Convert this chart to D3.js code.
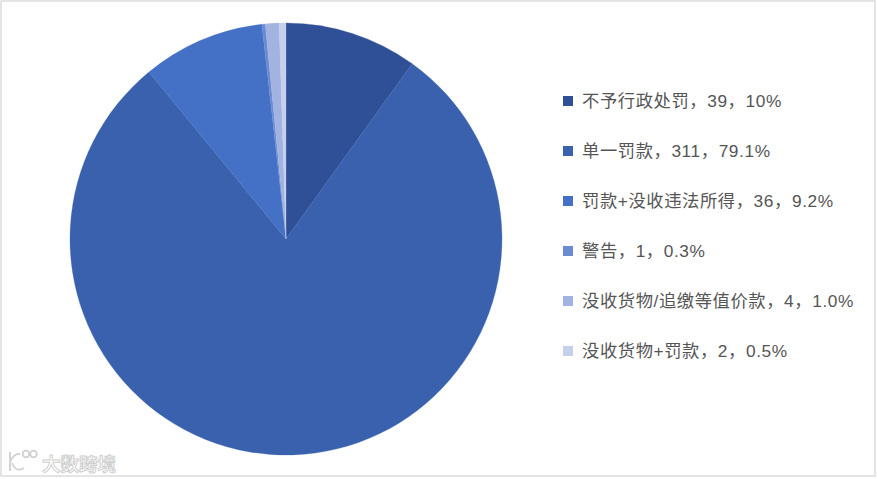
<!DOCTYPE html>
<html><head><meta charset="utf-8">
<script src="https://cdn.jsdelivr.net/npm/d3@7/dist/d3.min.js"></script>
<style>html,body{margin:0;padding:0;background:#fff;}svg{display:block;}</style>
</head><body>
<svg id="chart" width="877" height="479"></svg>
<script>
const categories = ["不予行政处罚","单一罚款","罚款+没收违法所得","警告","没收货物/追缴等值价款","没收货物+罚款"];
const values = [39, 311, 36, 1, 4, 2];
const percents = ["10%","79.1%","9.2%","0.3%","1.0%","0.5%"];
const colors = ["#2f5096","#3a61ae","#4471c6","#6a8bd3","#a2b3e1","#c6d0ec"];

const svg = d3.select("#chart");
svg.append("rect").attr("x",1).attr("y",1).attr("width",874).attr("height",475)
  .attr("fill","#fff").attr("stroke","#dcdcdc").attr("stroke-width",1.5);

const cx = 286, cy = 239, r = 216;
const pie = d3.pie().sort(null).value(d=>d)(values);
const arc = d3.arc().innerRadius(0).outerRadius(r);
const g = svg.append("g").attr("transform",`translate(${cx},${cy})`);
g.selectAll("path").data(pie).join("path")
  .attr("d",arc).attr("fill",(d,i)=>colors[i])
  .attr("stroke",(d,i)=>colors[i]).attr("stroke-width",0.3);

const y = d3.scalePoint().domain(categories).range([101,351]);
const leg = svg.append("g");
categories.forEach((c,i)=>{
  leg.append("rect").attr("x",563).attr("y",y(c)-5).attr("width",10).attr("height",10).attr("fill",colors[i]);
  leg.append("text").attr("x",582).attr("y",y(c)).attr("dy","0.36em")
    .attr("font-family","'Liberation Sans', 'Noto Sans CJK SC', sans-serif")
    .attr("font-size",17.3).attr("letter-spacing",0.6).attr("fill","#555")
    .text(`${c}，${values[i]}，${percents[i]}`);
});

// watermark
const wm = svg.append("g").attr("fill","none").attr("stroke","#d0d0d0").attr("stroke-width",1.8);
wm.append("path").attr("d","M10 452 L10 471 M10 462 Q14 453 20 454 M12 463 Q16 473 24 468");
wm.append("circle").attr("cx",26).attr("cy",454).attr("r",3.3);
wm.append("circle").attr("cx",33.5).attr("cy",454).attr("r",3.3);
svg.append("text").attr("x",42).attr("y",471).attr("font-size",18.5)
  .attr("font-family","'Noto Sans CJK SC', sans-serif").attr("fill","#fff")
  .attr("stroke","#cfcfcf").attr("stroke-width",1).attr("font-weight","bold")
  .text("大数跨境");
</script>
</body></html>
